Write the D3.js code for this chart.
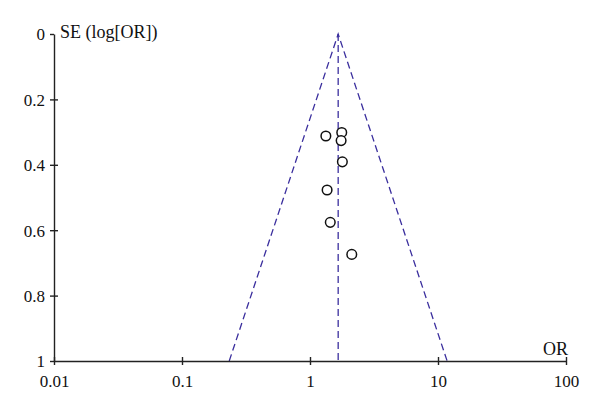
<!DOCTYPE html>
<html>
<head>
<meta charset="utf-8">
<script src="https://d3js.org/d3.v7.min.js"></script>
<style>
body { margin: 0; background: #fff; }
text { font-family: "Liberation Serif", "DejaVu Serif", serif; }
</style>
</head>
<body>
<script>
// study odds ratios and their standard errors
var orValues = [1.33, 1.77, 1.75, 1.79, 1.36, 1.44, 2.12];
var seValues = [0.312, 0.301, 0.326, 0.391, 0.477, 0.576, 0.674];
var pooledOR = 1.66;
var xTicks = [0.01, 0.1, 1, 10, 100];
var xTickLabels = ["0.01", "0.1", "1", "10", "100"];
var yTicks = [0, 0.2, 0.4, 0.6, 0.8, 1];
var yTickLabels = ["0", "0.2", "0.4", "0.6", "0.8", "1"];

var width = 600, height = 408;
var svg = d3.select("body").append("svg")
	.attr("width", width)
	.attr("height", height);

var x = d3.scaleLog().domain([0.01, 100]).range([54, 566]);
var y = d3.scaleLinear().domain([0, 1]).range([34, 361]);

var blue = "#3b2f9e";

// funnel: pooled line and 95% limits
var seMax = 1;
var lo = Math.exp(Math.log(pooledOR) - 1.96 * seMax);
var hi = Math.exp(Math.log(pooledOR) + 1.96 * seMax);
var funnel = [[lo, seMax], [pooledOR, 0], [hi, seMax]];

svg.append("path")
	.attr("d", d3.line().x(function(d) { return x(d[0]); }).y(function(d) { return y(d[1]); })(funnel))
	.attr("fill", "none")
	.attr("stroke", blue)
	.attr("stroke-width", 1.3)
	.attr("stroke-dasharray", "7,4");

svg.append("line")
	.attr("x1", x(pooledOR)).attr("x2", x(pooledOR))
	.attr("y1", y(0)).attr("y2", y(1))
	.attr("stroke", blue)
	.attr("stroke-width", 1.3)
	.attr("stroke-dasharray", "7,4");

// axes
var yAxis = svg.append("g")
	.attr("transform", "translate(" + x(0.01) + ",0)")
	.call(d3.axisLeft(y).tickValues(yTicks).tickSizeInner(4).tickSizeOuter(0)
		.tickFormat(function(d, i) { return yTickLabels[i]; }));
yAxis.selectAll(".tick line").attr("x2", 0).attr("x1", -4);
yAxis.selectAll(".tick").filter(function(d) { return d > 0 && d < 1; })
	.select("line").attr("x2", 4);

var xAxis = svg.append("g")
	.attr("transform", "translate(0," + y(1) + ")")
	.call(d3.axisBottom(x).tickValues(xTicks).tickSizeInner(4).tickSizeOuter(0)
		.tickFormat(function(d, i) { return xTickLabels[i]; }));
xAxis.selectAll(".tick line").attr("y1", -4).attr("y2", 4);

[yAxis, xAxis].forEach(function(a) {
	a.select(".domain").attr("stroke", "#222").attr("stroke-width", 1.4);
	a.selectAll(".tick line").attr("stroke", "#222").attr("stroke-width", 1.4);
	a.selectAll("text")
		.style("font-family", "'Liberation Serif', serif")
		.attr("font-size", 17)
		.attr("fill", "#111");
});
yAxis.selectAll("text").attr("x", -9).attr("dy", "0.35em");
xAxis.selectAll("text").attr("y", 14).attr("dy", "0.71em");

svg.append("text")
	.attr("x", 60).attr("y", 38)
	.attr("font-size", 18)
	.attr("fill", "#111")
	.text("SE (log[OR])");

svg.append("text")
	.attr("x", 568).attr("y", 355)
	.attr("text-anchor", "end")
	.attr("font-size", 18)
	.attr("fill", "#111")
	.text("OR");

// study points
svg.append("g")
	.selectAll("circle")
	.data(orValues)
	.enter()
	.append("circle")
		.attr("cx", function(d) { return x(d); })
		.attr("cy", function(d, i) { return y(seValues[i]); })
		.attr("r", 4.8)
		.attr("fill", "#fff")
		.attr("stroke", "#111")
		.attr("stroke-width", 1.5);
</script>
</body>
</html>
